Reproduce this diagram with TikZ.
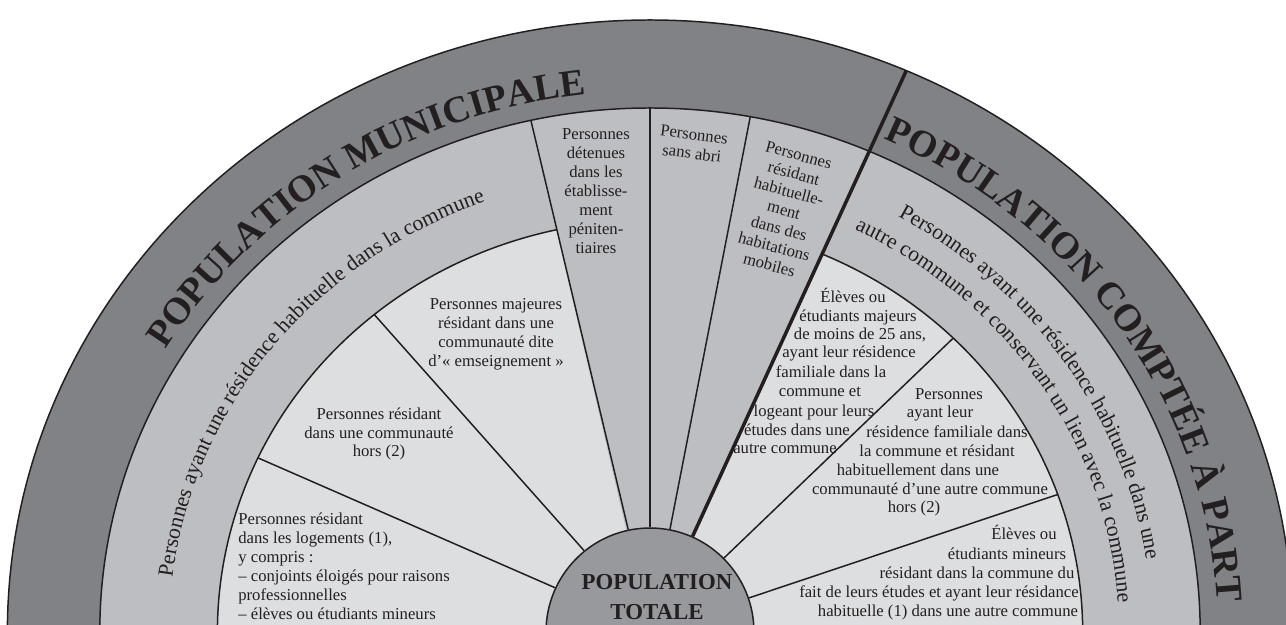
\documentclass[tikz,border=0pt]{standalone}
\usepackage{fontspec}
\setmainfont{Liberation Serif}
\usetikzlibrary{decorations.text}

\definecolor{ringdark}{RGB}{128,130,133}
\definecolor{ringmid}{RGB}{189,190,193}
\definecolor{ringlight}{RGB}{221,222,224}
\definecolor{hubgray}{RGB}{152,153,156}
\definecolor{ink}{RGB}{35,31,32}

\newcommand{\titlefont}{\fontsize{21.5}{21.5}\selectfont\bfseries}
\newcommand{\ringfont}{\fontsize{12.4}{12.4}\selectfont}

\begin{document}
\begin{tikzpicture}[
    x=0.02cm, y=0.02cm,
    edge/.style={draw=ink, line width=0.85pt},
    divider/.style={draw=ink, line width=2pt},
    wedgetext/.style={text=ink, align=center, font=\fontsize{9.5}{10.8}\selectfont, inner sep=0pt},
    linetext/.style={wedgetext, text height=1.55ex, text depth=0.35ex},
    hub/.style={circle, fill=hubgray, draw=ink, line width=0.85pt, minimum size=4.16cm, inner sep=0pt},
    hubtext/.style={text=ink, align=center, font=\fontsize{13}{17.5}\selectfont\bfseries},
    arctext/.style={decorate, decoration={text along path, text align=center, text color=ink}}
]

\useasboundingbox (-650,7) rectangle (636,632);
\clip (-650,7) rectangle (636,632);

% Rings
\begin{scope}[xscale=1.05]
    \fill[ringdark] (0,0) circle (612);
    \fill[ringmid] (0,0) circle (524);
    \fill[ringlight] (0,0) circle (412);
    % middle wedges
    \fill[ringmid] (0,0) -- (66.5:524) arc[start angle=66.5, end angle=102.5, radius=524] -- cycle;
    \draw[edge] (0,0) circle (612);
    \draw[edge] (0,0) circle (524);
    \draw[edge] (102.5:412) arc[start angle=102.5, end angle=200, radius=412];
    \draw[edge] (66.5:412) arc[start angle=66.5, end angle=-20, radius=412];
\end{scope}

% Population totale
\node[hub] (total) at (0,0) {};
\node[hubtext] (totaltext) at (7,35) {POPULATION\\TOTALE};

% Wedge lines
\begin{scope}[xscale=1.05]
    \foreach \a/\r in {155/412, 129.6/412, 102.5/524, 90/524, 79.5/524, 45.5/412, 19.5/412}
        \draw[edge] (total.\a) -- (\a:\r);
    \draw[divider] (total.66.5) -- (66.5:612);
\end{scope}

% Titles on the dark ring
\path[arctext, decoration={text={|\titlefont|POPULATION MUNICIPALE}}]
    (173:568 and 541) arc[start angle=173, end angle=73, x radius=568, y radius=541];
\path[arctext, decoration={text={|\titlefont|POPULATION COMPTÉE À PART}}]
    (84:568 and 541) arc[start angle=84, end angle=-16, x radius=568, y radius=541];

% Texts on the middle ring
\path[arctext, decoration={text={|\ringfont|Personnes ayant une résidence habituelle dans la commune}}]
    (192:481 and 458) arc[start angle=192, end angle=92, x radius=481, y radius=458];
\path[arctext, decoration={text={|\ringfont|Personnes ayant une résidence habituelle dans une}}]
    (84:502 and 478) arc[start angle=84, end angle=-16, x radius=502, y radius=478];
\path[arctext, decoration={text={|\ringfont|autre commune et conservant un lien avec la commune}}]
    (84:469 and 447) arc[start angle=84, end angle=-17, x radius=469, y radius=447];

% Middle wedges
\node[wedgetext] (detenues) at (-54,441) {Personnes\\détenues\\dans les\\établisse-\\ment\\péniten-\\tiaires};
\node[wedgetext, rotate=-7] (sansabri) at (43,488) {Personnes\\sans abri};
\node[wedgetext, rotate=-15] (mobiles) at (134,422) {Personnes\\résidant\\habituelle-\\ment\\dans des\\habitations\\mobiles};

% Left part
\node[wedgetext] (majeures) at (-154,298) {Personnes majeures\\résidant dans une\\communauté dite\\d’«~emseignement~»};
\node[wedgetext] (communaute) at (-271,198) {Personnes résidant\\dans une communauté\\hors (2)};
\node[wedgetext, align=left, anchor=north west] (logements) at (-412,119) {Personnes résidant\\dans les logements (1),\\y compris :\\– conjoints éloigés pour raisons\\professionnelles\\– élèves ou étudiants mineurs};

% Right part
\foreach \i/\x/\y/\t in {1/203/334/{Élèves ou}, 2/208/315/{étudiants majeurs}, 3/210/297/{de moins de 25 ans,},
    4/199/279/{ayant leur résidence}, 5/181/259/{familiale dans la}, 6/170/240/{commune et},
    7/164/220/{logeant pour leurs}, 8/147/201/{études dans une}, 9/135/183/{autre commune}}
    \node[linetext] (majeurs\i) at (\x,\y) {\t};

\foreach \i/\x/\y/\t in {1/299/237/{Personnes}, 2/290/219/{ayant leur}, 3/297/199/{résidence familiale dans},
    4/287/180/{la commune et résidant}, 5/268/161/{habituellement dans une},
    6/280/142/{communauté d’une autre commune}, 7/264/124/{hors (2)}}
    \node[linetext] (familiale\i) at (\x,\y) {\t};

\foreach \i/\x/\y/\t in {1/374/97/{Élèves ou}, 2/357/77/{étudiants mineurs}, 3/327/58/{résidant dans la commune du},
    4/289/39/{fait de leurs études et ayant leur résidance}, 5/298/20/{habituelle (1) dans une autre commune}}
    \node[linetext] (mineurs\i) at (\x,\y) {\t};

\end{tikzpicture}
\end{document}
